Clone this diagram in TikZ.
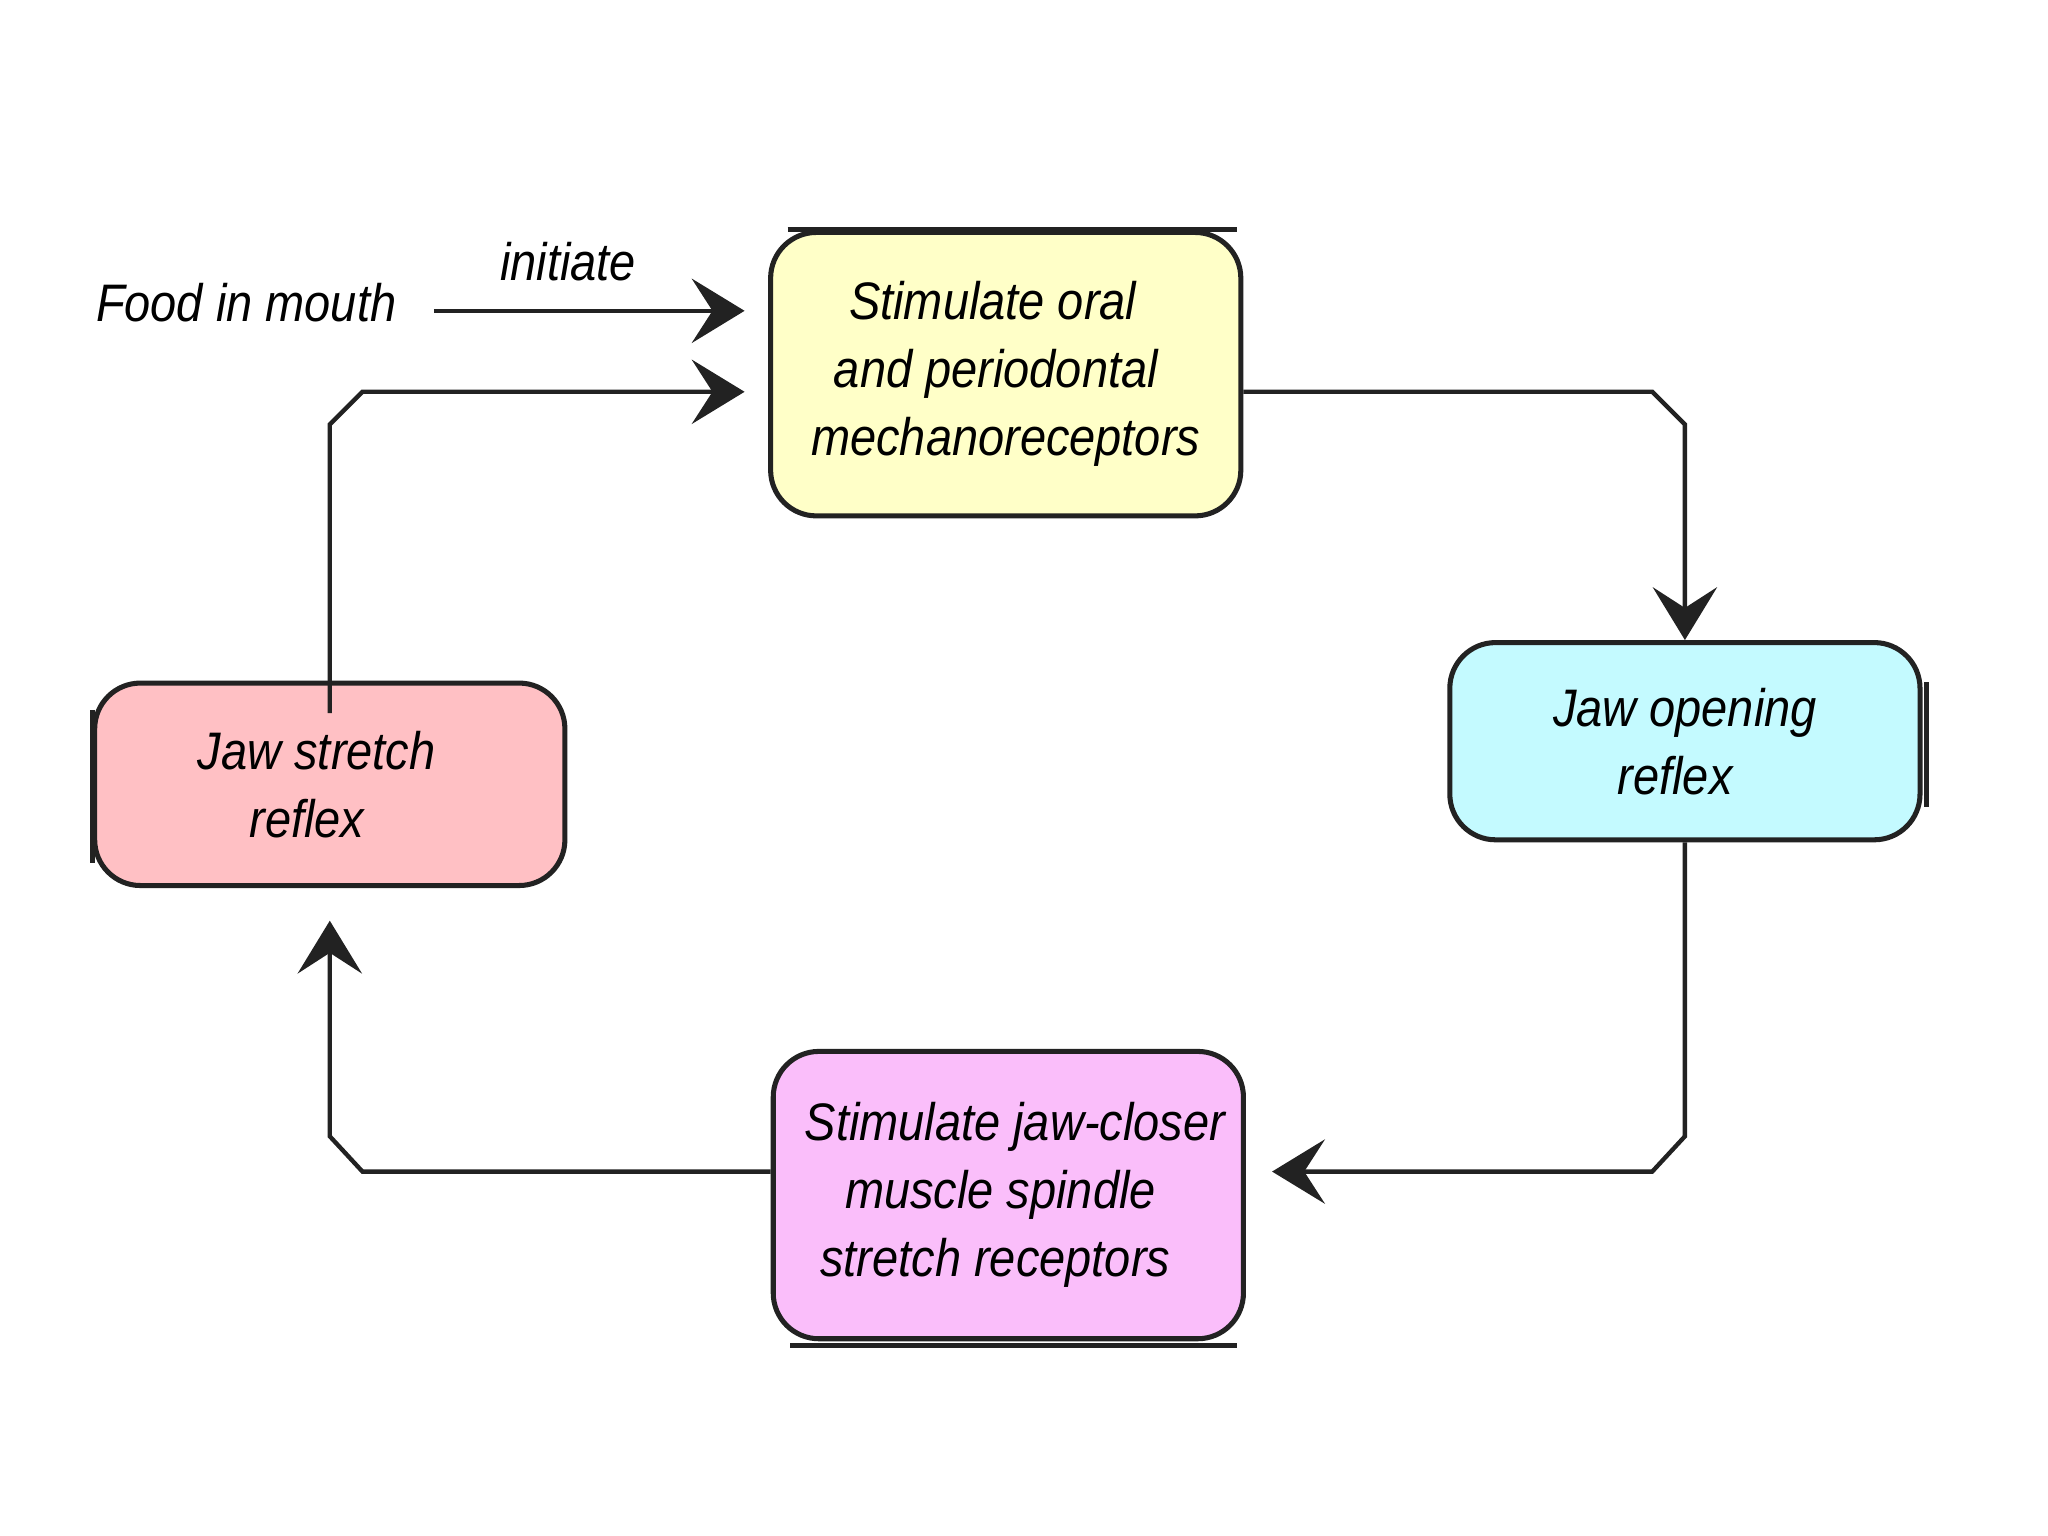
\documentclass[tikz,border=0pt]{standalone}
\usepackage{fontspec}
\setmainfont{Liberation Sans}[FakeStretch=0.89]
\usetikzlibrary{arrows.meta}
\definecolor{oralfill}{RGB}{255,255,200}
\definecolor{openfill}{RGB}{196,250,255}
\definecolor{stretchfill}{RGB}{255,192,196}
\definecolor{closerfill}{RGB}{250,190,250}
\definecolor{edge}{RGB}{34,34,34}
\tikzset{box/.style = {draw = edge, line width = 1.1pt, rounded corners = 0.35cm, align = center, inner sep = 0pt,
                       minimum width = 3.6cm, font = \fontsize{11.5}{14.8}\selectfont\itshape},
         arr/.style = {draw = edge, line width = 0.95pt, -{Stealth[length = 11.5pt, width = 14pt, inset = 4.5pt]}},
         lbl/.style = {inner sep = 0pt, font = \fontsize{11.5}{14.8}\selectfont\itshape}}

\begin{document}
\begin{tikzpicture}
  	\useasboundingbox (0,0) rectangle (15.68,11.76);
  	\node[box, fill = oralfill, minimum height = 2.17cm] (oral) at (7.70,8.895) {\hspace*{-0.2cm}Stimulate oral\\\hspace*{-0.15cm}and periodontal\\mechanoreceptors};
  	\node[box, fill = openfill, minimum height = 1.51cm] (open) at (12.90,6.085) {Jaw opening\\\hspace*{-0.15cm}reflex};
  	\node[box, fill = closerfill, minimum height = 2.2cm] (closer) at (7.72,2.61) {\hspace*{0.1cm}Stimulate jaw-closer\\\hspace*{-0.12cm}muscle spindle\\\hspace*{-0.2cm}stretch receptors};
  	\node[box, fill = stretchfill, minimum height = 1.55cm] (stretch) at (2.525,5.755) {\hspace*{-0.2cm}Jaw stretch\\\hspace*{-0.35cm}reflex};
  	\node[lbl] (food) at (1.885,9.44) {Food in mouth};
  	\node[lbl] (initiate) at (4.35,9.76) {initiate};
    \draw[line width = 1.1pt, edge] ([xshift = 0.15cm]oral.north west) -- ([xshift = -0.05cm]oral.north east);
    \draw[line width = 1.1pt, edge] ([xshift = 0.15cm, yshift = -0.03cm]closer.south west) -- ([xshift = -0.07cm, yshift = -0.03cm]closer.south east);
    \draw[line width = 1.1pt, edge] ([yshift = 0.57cm]stretch.west) -- ([yshift = -0.6cm]stretch.west);
    \draw[line width = 1.1pt, edge] ([xshift = 0.03cm, yshift = 0.45cm]open.east) -- ([xshift = 0.03cm, yshift = -0.5cm]open.east);
    \coordinate (in2) at ([yshift = -0.135cm]oral.west);
    \coordinate (out1) at ([yshift = -0.135cm]oral.east);
    \coordinate (in3) at ([yshift = 0.18cm]closer.east);
    \coordinate (out3) at ([yshift = 0.18cm]closer.west);
    \draw[arr, shorten < = 0.28cm, shorten > = 0.18cm] ([yshift = -0.06cm]food.east) -- ([yshift = -0.06cm]food.east -| oral.west);
    \draw[arr, shorten > = 0.18cm] ([yshift = -0.25cm]stretch.north) -- ([yshift = -0.25cm]in2 -| stretch.north)
          -- ([xshift = 0.25cm]in2 -| stretch.north) -- (in2);
    \draw[arr] (out1) -- ([xshift = -0.25cm]out1 -| open.north) -- ([yshift = -0.25cm]out1 -| open.north) -- (open.north);
    \draw[arr, shorten > = 0.2cm] (open.south) -- ([yshift = 0.27cm]in3 -| open.south)
          -- ([xshift = -0.25cm]in3 -| open.south) -- (in3);
    \draw[arr, shorten > = 0.25cm] (out3) -- ([xshift = 0.25cm]out3 -| stretch.south)
          -- ([yshift = 0.27cm]out3 -| stretch.south) -- (stretch.south);
  \end{tikzpicture}
\end{document}
